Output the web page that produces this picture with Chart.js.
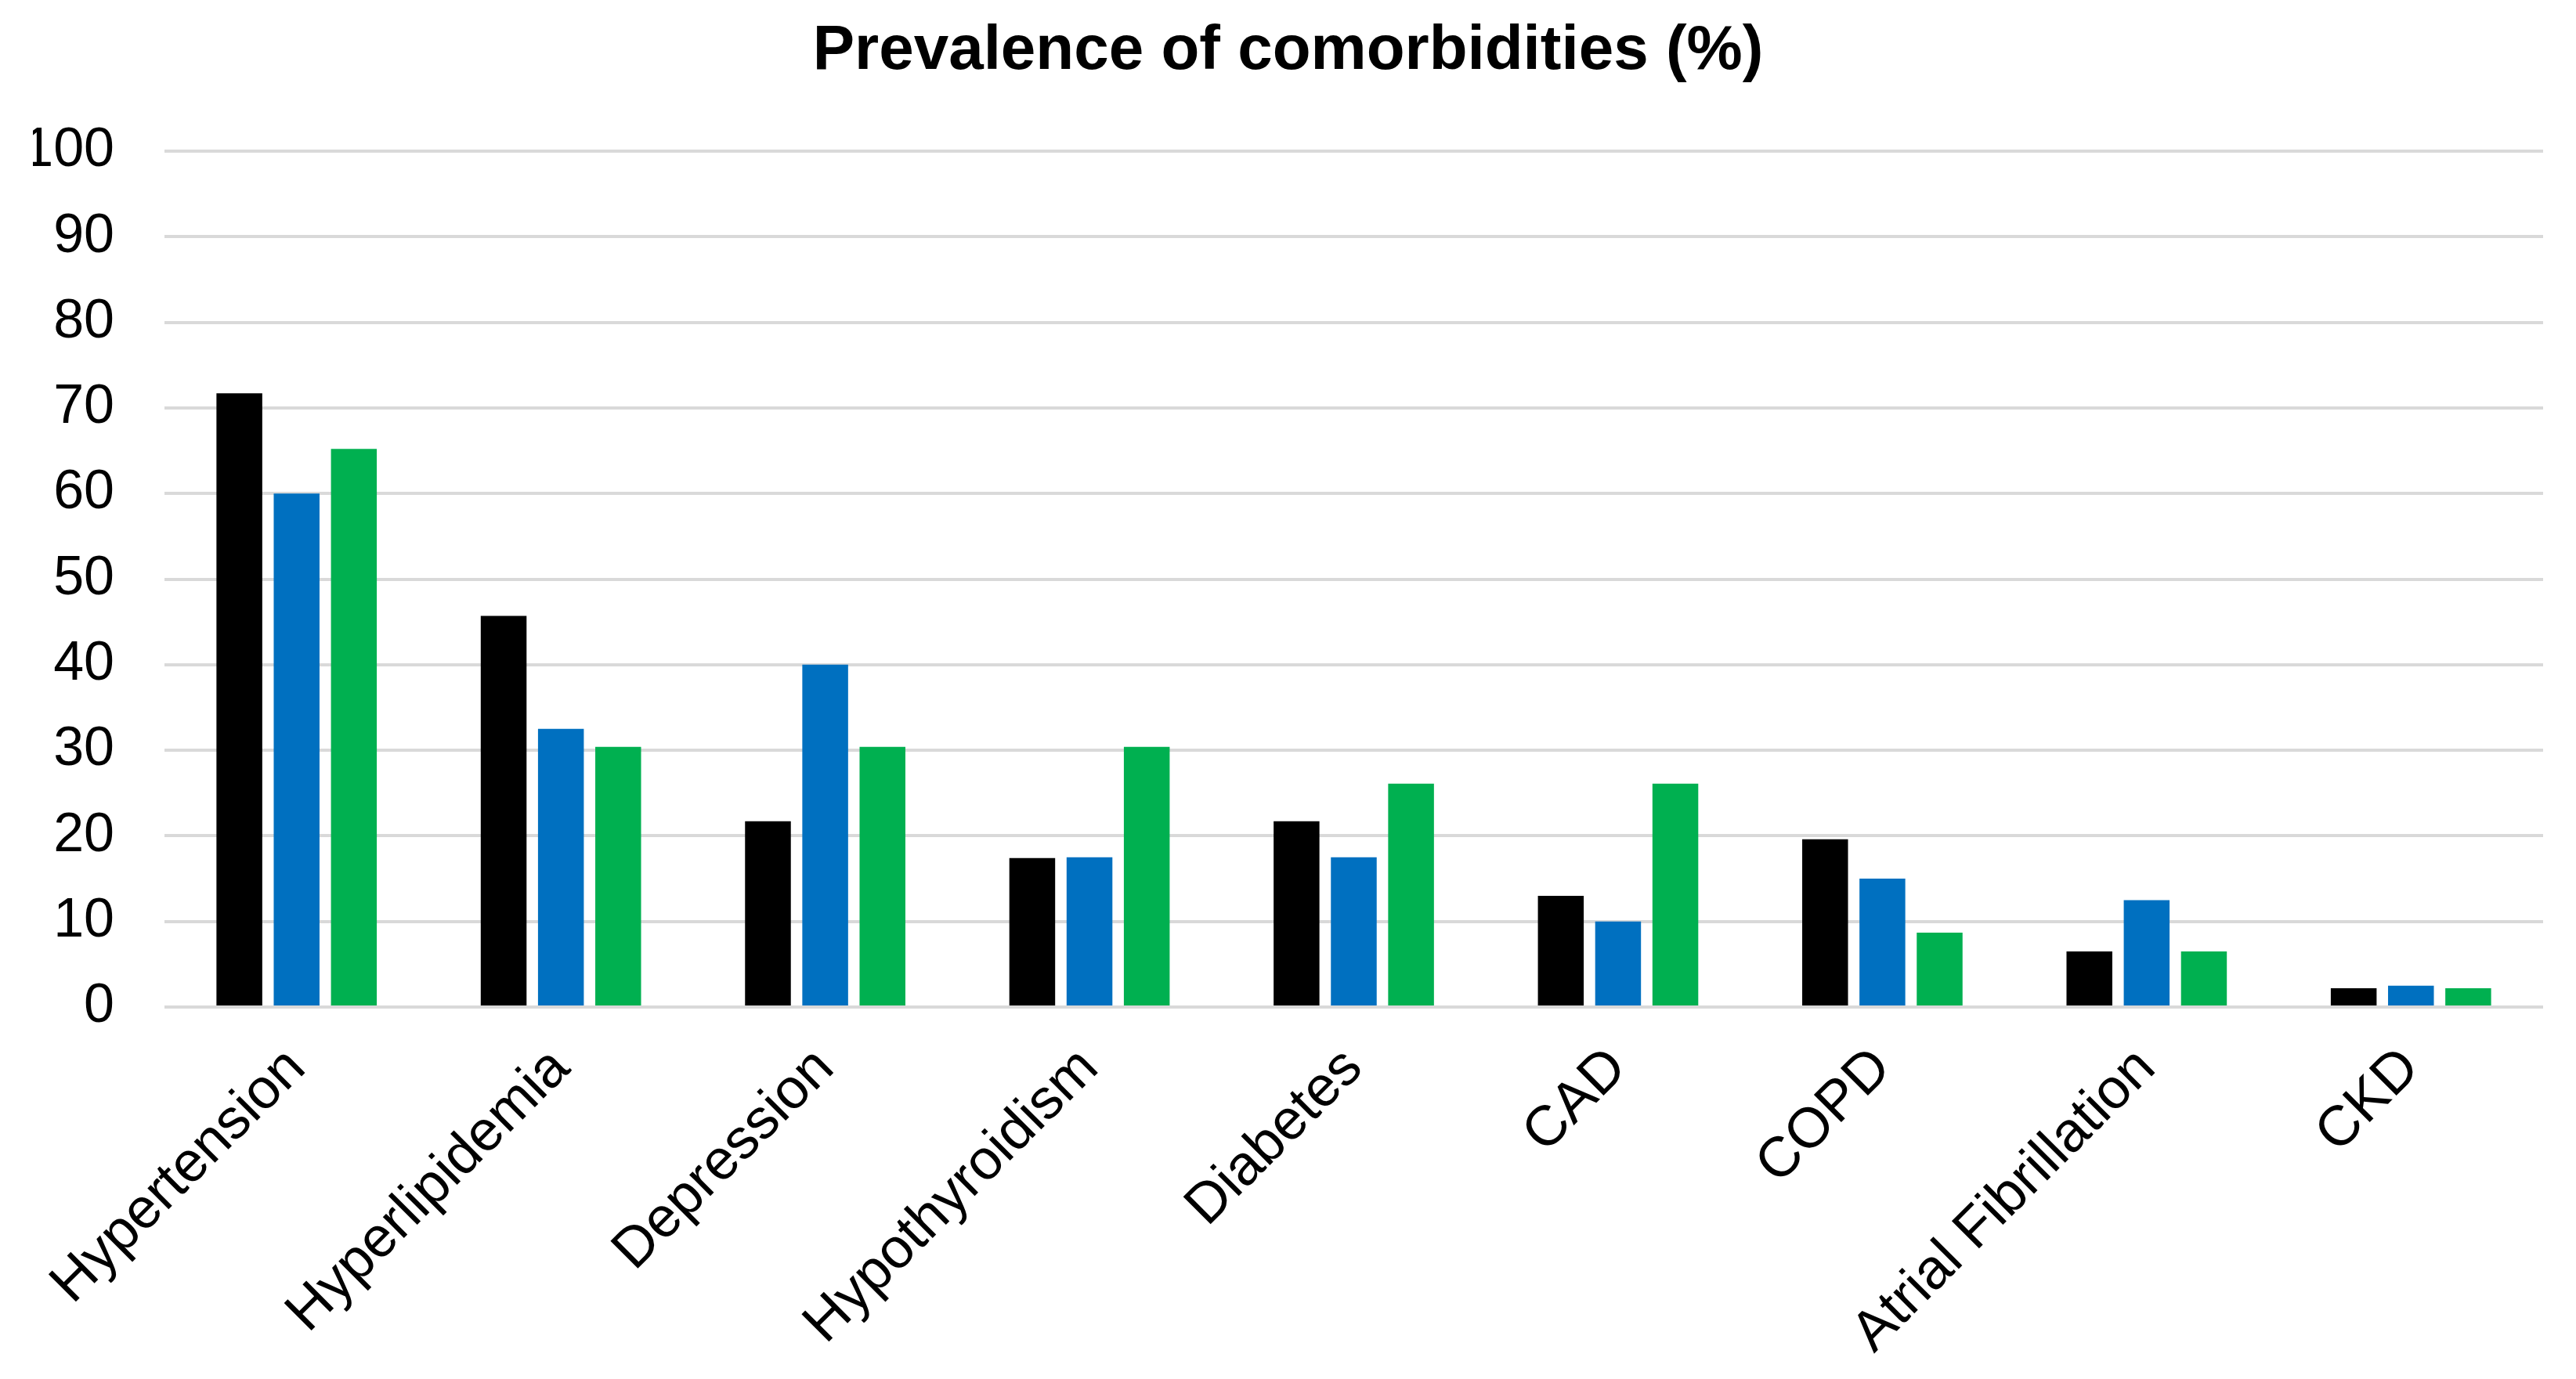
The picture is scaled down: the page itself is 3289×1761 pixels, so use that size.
<!DOCTYPE html>
<html>
<head>
<meta charset="utf-8">
<title>Prevalence of comorbidities</title>
<script src="https://cdn.jsdelivr.net/npm/chart.js@4.4.1/dist/chart.umd.min.js"></script>
<style>
  html, body { margin: 0; padding: 0; background: #fff; }
  #wrap { width: 3289px; height: 1761px; }
</style>
</head>
<body>
<div id="wrap"><canvas id="chart" width="3289" height="1761"></canvas></div>
<script>
// Datos
const categories = ["Hypertension", "Hyperlipidemia", "Depression", "Hypothyroidism", "Diabetes", "CAD", "COPD", "Atrial Fibrillation", "CKD"];
const seriesBlack = [71.7, 45.7, 21.7, 17.4, 21.7, 13.0, 19.6, 6.5, 2.2];
const seriesBlue = [60.0, 32.5, 40.0, 17.5, 17.5, 10.0, 15.0, 12.5, 2.5];
const seriesGreen = [65.2, 30.4, 30.4, 30.4, 26.1, 26.1, 8.7, 6.5, 2.2];
const yTicks = [0, 10, 20, 30, 40, 50, 60, 70, 80, 90, 100];

const fontFamily = "'Liberation Sans', Arial, sans-serif";

function makeSet(label, data, color) {
  return {
    label: label,
    data: data,
    backgroundColor: color,
    borderWidth: 0,
    categoryPercentage: 0.65,
    barPercentage: 0.8
  };
}

const ctx = document.getElementById("chart");
new Chart(ctx, {
  type: "bar",
  data: {
    labels: categories,
    datasets: [
      makeSet("Serie 1", seriesBlack, "#000000"),
      makeSet("Serie 2", seriesBlue, "#0070C0"),
      makeSet("Serie 3", seriesGreen, "#00B050")
    ]
  },
  options: {
    responsive: false,
    animation: false,
    devicePixelRatio: 1,
    // padding simetrico para centrar el titulo en el lienzo
    layout: { padding: { left: 42, right: 42, top: 0, bottom: 0 } },
    plugins: {
      legend: { display: false },
      tooltip: { enabled: false },
      title: {
        display: true,
        text: "Prevalence of comorbidities (%)",
        color: "#000",
        font: { family: fontFamily, size: 80, weight: "bold" },
        padding: { top: 18, bottom: 79 }
      }
    },
    scales: {
      x: {
        grid: { display: false, drawTicks: false },
        border: { display: false },
        ticks: {
          color: "#000",
          font: { family: fontFamily, size: 72 },
          minRotation: 45,
          maxRotation: 45,
          padding: 36
        },
        afterFit: function (scale) { scale.height = 475; }
      },
      y: {
        min: 0,
        max: 100,
        afterBuildTicks: function (scale) {
          scale.ticks = yTicks.map(v => ({ value: v }));
        },
        grid: { color: "#d9d9d9", lineWidth: 4, drawTicks: false },
        border: { display: false },
        ticks: {
          color: "#000",
          font: { family: fontFamily, size: 70 },
          padding: 64
        },
        afterFit: function (scale) { scale.width = 168; }
      }
    }
  }
});
</script>
</body>
</html>
